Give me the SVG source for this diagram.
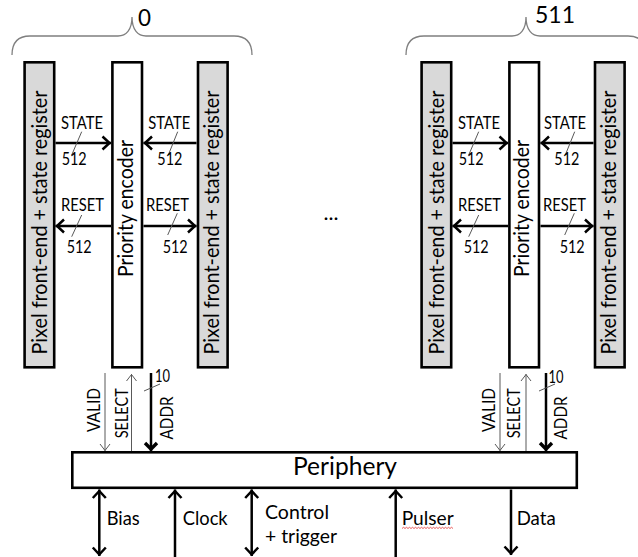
<svg xmlns="http://www.w3.org/2000/svg" width="638" height="557" viewBox="0 0 638 557">
  <style>
    text { font-family: Lato, "Liberation Sans", sans-serif; fill: #000; }
    .box { fill: #fff; stroke: #000; stroke-width: 2.6; }
    .pix { fill: #d9d9d9; stroke: #000; stroke-width: 2.6; }
    .brace { fill: none; stroke: #7f7f7f; stroke-width: 1.3; }
    .bus { fill: none; stroke: #000; stroke-width: 2.5; }
    .thin { fill: none; stroke: #595959; stroke-width: 1; }
    .tick { fill: none; stroke: #595959; stroke-width: 1; }
    .lbl { font-size: 17px; }
    .big { font-size: 21px; }
    .io { font-size: 20px; }
  </style>
  <defs>
    <marker id="head" markerUnits="userSpaceOnUse" viewBox="-10 -8 12 16" refX="0" refY="0" markerWidth="12" markerHeight="16" orient="auto-start-reverse">
      <path d="M-8.5,-6.5 L-1.5,0 L-8.5,6.5" fill="none" stroke="#000" stroke-width="2.5"/>
    </marker>
    <marker id="headBold" markerUnits="userSpaceOnUse" viewBox="-10 -8 12 16" refX="0" refY="0" markerWidth="12" markerHeight="16" orient="auto-start-reverse">
      <path d="M-8,-6 L-2,0 L-8,6" fill="none" stroke="#000" stroke-width="3.4"/>
    </marker>
    <marker id="headThin" markerUnits="userSpaceOnUse" viewBox="-10 -8 12 16" refX="0" refY="0" markerWidth="12" markerHeight="16" orient="auto-start-reverse">
      <path d="M-7,-5 L-0.5,0 L-7,5" fill="none" stroke="#595959" stroke-width="1"/>
    </marker>
  </defs>

  <!-- column 0 -->
  <g id="col0-brace">
    <path class="brace" d="M12,55 C12,42 18,36 30,36 L118,36 C126,36 132,30 132,17 C132,30 138,36 146,36 L234,36 C246,36 252,42 252,55"/>
    <text x="138" y="26" style="font-size:24px" textLength="13" lengthAdjust="spacingAndGlyphs">0</text>
  </g>
  <g id="col0-pixel-left">
    <rect class="pix" x="24.6" y="62.3" width="29.6" height="305"/>
    <text class="big" transform="translate(46.7,222.5) rotate(-90)" text-anchor="middle" textLength="264" lengthAdjust="spacingAndGlyphs">Pixel front-end + state register</text>
  </g>
  <g id="col0-encoder">
    <rect class="box" x="112.4" y="62.3" width="29.6" height="305"/>
    <text class="big" transform="translate(132.5,208.5) rotate(-90)" text-anchor="middle" textLength="137" lengthAdjust="spacingAndGlyphs">Priority encoder</text>
  </g>
  <g id="col0-pixel-right">
    <rect class="pix" x="198" y="62.3" width="29.6" height="305"/>
    <text class="big" transform="translate(218.5,222.5) rotate(-90)" text-anchor="middle" textLength="264" lengthAdjust="spacingAndGlyphs">Pixel front-end + state register</text>
  </g>

  <!-- column 511 -->
  <g id="col511-brace">
    <path class="brace" d="M406,55 C406,42 412,36 424,36 L512,36 C520,36 526,30 526,17 C526,30 532,36 540,36 L628,36 C640,36 646,42 646,55"/>
    <text x="535" y="23" style="font-size:24px" textLength="40" lengthAdjust="spacingAndGlyphs">511</text>
  </g>
  <g id="col511-pixel-left">
    <rect class="pix" x="421.6" y="62.3" width="29.6" height="305"/>
    <text class="big" transform="translate(443.5,222.5) rotate(-90)" text-anchor="middle" textLength="264" lengthAdjust="spacingAndGlyphs">Pixel front-end + state register</text>
  </g>
  <g id="col511-encoder">
    <rect class="box" x="509.4" y="62.3" width="29.6" height="305"/>
    <text class="big" transform="translate(529,208.5) rotate(-90)" text-anchor="middle" textLength="137" lengthAdjust="spacingAndGlyphs">Priority encoder</text>
  </g>
  <g id="col511-pixel-right">
    <rect class="pix" x="595" y="62.3" width="29.6" height="305"/>
    <text class="big" transform="translate(616,222.5) rotate(-90)" text-anchor="middle" textLength="264" lengthAdjust="spacingAndGlyphs">Pixel front-end + state register</text>
  </g>

  <g id="ellipsis">
    <text x="323.5" y="220" style="font-size:21px" textLength="15" lengthAdjust="spacingAndGlyphs">...</text>
  </g>

  <g id="periphery">
    <rect class="box" x="72.3" y="452.3" width="504.5" height="35.5"/>
    <text x="293" y="475" style="font-size:25px" textLength="104" lengthAdjust="spacingAndGlyphs">Periphery</text>
  </g>

  <!-- buses and signals -->
  <g id="connectors">
    <!-- column 0: pixel <-> encoder -->
    <line class="bus" x1="55.5" y1="143" x2="111" y2="143" marker-end="url(#head)"/>
    <line class="bus" x1="196.5" y1="143" x2="143.5" y2="143" marker-end="url(#head)"/>
    <line class="bus" x1="111" y1="226" x2="55.5" y2="226" marker-end="url(#head)"/>
    <line class="bus" x1="143.5" y1="226" x2="196.5" y2="226" marker-end="url(#head)"/>
    <line class="tick" x1="81.7" y1="131.7" x2="71.7" y2="155"/>
    <line class="tick" x1="177.7" y1="131.7" x2="168.3" y2="155"/>
    <line class="tick" x1="81.7" y1="215" x2="71.7" y2="236.7"/>
    <line class="tick" x1="177.3" y1="213.3" x2="167.7" y2="235"/>
    <text class="lbl" x="61" y="129.3" textLength="42" lengthAdjust="spacingAndGlyphs">STATE</text>
    <text class="lbl" x="61.7" y="165" textLength="25" lengthAdjust="spacingAndGlyphs">512</text>
    <text class="lbl" x="148.3" y="129.3" textLength="42" lengthAdjust="spacingAndGlyphs">STATE</text>
    <text class="lbl" x="157.3" y="165" textLength="25" lengthAdjust="spacingAndGlyphs">512</text>
    <text class="lbl" x="61" y="210.7" textLength="43" lengthAdjust="spacingAndGlyphs">RESET</text>
    <text class="lbl" x="66.7" y="252.7" textLength="25" lengthAdjust="spacingAndGlyphs">512</text>
    <text class="lbl" x="146" y="210.7" textLength="43" lengthAdjust="spacingAndGlyphs">RESET</text>
    <text class="lbl" x="162.7" y="252.7" textLength="25" lengthAdjust="spacingAndGlyphs">512</text>

    <!-- column 511: pixel <-> encoder -->
    <line class="bus" x1="452.5" y1="143" x2="508" y2="143" marker-end="url(#head)"/>
    <line class="bus" x1="593.5" y1="143" x2="540.5" y2="143" marker-end="url(#head)"/>
    <line class="bus" x1="508" y1="226" x2="452.5" y2="226" marker-end="url(#head)"/>
    <line class="bus" x1="540.5" y1="226" x2="593.5" y2="226" marker-end="url(#head)"/>
    <line class="tick" x1="478.7" y1="131.7" x2="468.7" y2="155"/>
    <line class="tick" x1="574.7" y1="131.7" x2="565.3" y2="155"/>
    <line class="tick" x1="478.7" y1="215" x2="468.7" y2="236.7"/>
    <line class="tick" x1="574.3" y1="213.3" x2="564.7" y2="235"/>
    <text class="lbl" x="458" y="129.3" textLength="42" lengthAdjust="spacingAndGlyphs">STATE</text>
    <text class="lbl" x="458.7" y="165" textLength="25" lengthAdjust="spacingAndGlyphs">512</text>
    <text class="lbl" x="544" y="129.3" textLength="42" lengthAdjust="spacingAndGlyphs">STATE</text>
    <text class="lbl" x="554.3" y="165" textLength="25" lengthAdjust="spacingAndGlyphs">512</text>
    <text class="lbl" x="458" y="210.7" textLength="43" lengthAdjust="spacingAndGlyphs">RESET</text>
    <text class="lbl" x="463.7" y="252.7" textLength="25" lengthAdjust="spacingAndGlyphs">512</text>
    <text class="lbl" x="543" y="210.7" textLength="43" lengthAdjust="spacingAndGlyphs">RESET</text>
    <text class="lbl" x="559.7" y="252.7" textLength="25" lengthAdjust="spacingAndGlyphs">512</text>

    <!-- column 0: encoder <-> periphery -->
    <line class="thin" x1="105" y1="373" x2="105" y2="451" marker-end="url(#headThin)"/>
    <line class="thin" x1="131.5" y1="451" x2="131.5" y2="374" marker-end="url(#headThin)"/>
    <line class="bus" x1="151" y1="373" x2="151" y2="451" marker-end="url(#headBold)"/>
    <line class="tick" x1="144" y1="391" x2="160" y2="384"/>
    <text class="lbl" x="155" y="382" textLength="15" lengthAdjust="spacingAndGlyphs">10</text>
    <text class="lbl" transform="translate(100,410) rotate(-90)" text-anchor="middle" textLength="44" lengthAdjust="spacingAndGlyphs">VALID</text>
    <text class="lbl" transform="translate(128.3,413.3) rotate(-90)" text-anchor="middle" textLength="50" lengthAdjust="spacingAndGlyphs">SELECT</text>
    <text class="lbl" transform="translate(173.3,418) rotate(-90)" text-anchor="middle" textLength="43" lengthAdjust="spacingAndGlyphs">ADDR</text>

    <!-- column 511: encoder <-> periphery -->
    <line class="thin" x1="500" y1="373" x2="500" y2="451" marker-end="url(#headThin)"/>
    <line class="thin" x1="526" y1="451" x2="526" y2="374" marker-end="url(#headThin)"/>
    <line class="bus" x1="546" y1="373" x2="546" y2="451" marker-end="url(#headBold)"/>
    <line class="tick" x1="539" y1="391" x2="555" y2="384"/>
    <text class="lbl" x="548.5" y="383" textLength="15" lengthAdjust="spacingAndGlyphs">10</text>
    <text class="lbl" transform="translate(495,410) rotate(-90)" text-anchor="middle" textLength="44" lengthAdjust="spacingAndGlyphs">VALID</text>
    <text class="lbl" transform="translate(520,413.3) rotate(-90)" text-anchor="middle" textLength="50" lengthAdjust="spacingAndGlyphs">SELECT</text>
    <text class="lbl" transform="translate(566.7,418) rotate(-90)" text-anchor="middle" textLength="43" lengthAdjust="spacingAndGlyphs">ADDR</text>

    <!-- periphery I/O -->
    <line class="bus" x1="99.3" y1="489.5" x2="99.3" y2="556" marker-start="url(#head)" marker-end="url(#head)"/>
    <line class="bus" x1="175" y1="557" x2="175" y2="489.5" marker-end="url(#head)"/>
    <line class="bus" x1="251.7" y1="489.5" x2="251.7" y2="556" marker-start="url(#head)" marker-end="url(#head)"/>
    <line class="bus" x1="395.7" y1="557" x2="395.7" y2="489.5" marker-end="url(#head)"/>
    <line class="bus" x1="511" y1="489.5" x2="511" y2="555" marker-end="url(#head)"/>
    <text class="io" x="106.7" y="525" textLength="33" lengthAdjust="spacingAndGlyphs">Bias</text>
    <text class="io" x="182.7" y="525" textLength="45" lengthAdjust="spacingAndGlyphs">Clock</text>
    <text class="io" x="265" y="519" textLength="64" lengthAdjust="spacingAndGlyphs">Control</text>
    <text class="io" x="265" y="543.3" textLength="72" lengthAdjust="spacingAndGlyphs">+ trigger</text>
    <text class="io" x="401.7" y="525" textLength="52" lengthAdjust="spacingAndGlyphs">Pulser</text>
    <path d="M402,528.5 l1.5,-1.2 l1.5,1.2 l1.5,-1.2 l1.5,1.2 l1.5,-1.2 l1.5,1.2 l1.5,-1.2 l1.5,1.2 l1.5,-1.2 l1.5,1.2 l1.5,-1.2 l1.5,1.2 l1.5,-1.2 l1.5,1.2 l1.5,-1.2 l1.5,1.2 l1.5,-1.2 l1.5,1.2 l1.5,-1.2 l1.5,1.2 l1.5,-1.2 l1.5,1.2 l1.5,-1.2 l1.5,1.2 l1.5,-1.2 l1.5,1.2 l1.5,-1.2 l1.5,1.2 l1.5,-1.2 l1.5,1.2 l1.5,-1.2 l1.5,1.2 l1.5,-1.2 l1.5,1.2" fill="none" stroke="#e03030" stroke-width="0.8"/>
    <text class="io" x="516.7" y="525" textLength="39" lengthAdjust="spacingAndGlyphs">Data</text>
  </g>
</svg>
